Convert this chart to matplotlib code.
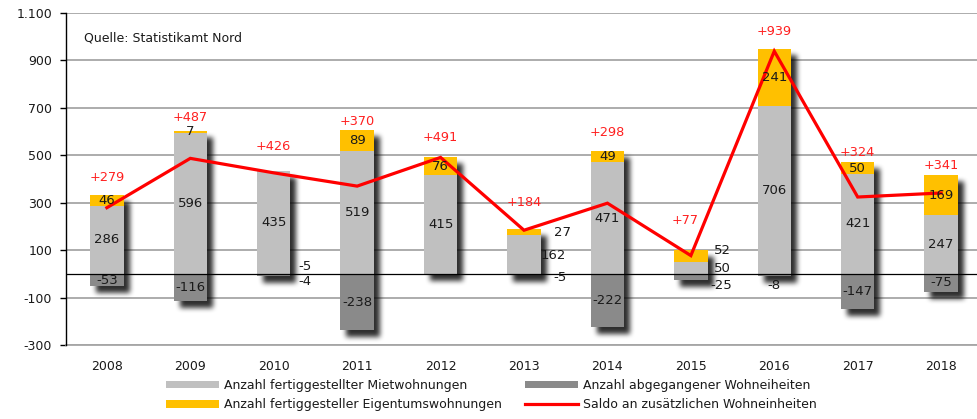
import numpy as np
import matplotlib
matplotlib.use("Agg")
import matplotlib.pyplot as plt
from matplotlib.ticker import FuncFormatter, FixedLocator
from matplotlib.lines import Line2D
from matplotlib.patches import Patch

# ---------------- data ----------------
years = ["2008", "2009", "2010", "2011", "2012", "2013", "2014", "2015", "2016", "2017", "2018"]
miet = [286, 596, 435, 519, 415, 162, 471, 50, 706, 421, 247]
eigen = [46, 7, -5, 89, 76, 27, 49, 52, 241, 50, 169]
abgang = [-53, -116, -4, -238, 0, -5, -222, -25, -8, -147, -75]
saldo = [279, 487, 426, 370, 491, 184, 298, 77, 939, 324, 341]
yticks = [-300, -100, 100, 300, 500, 700, 900, 1100]

legend_labels = ["Anzahl fertiggestellter Mietwohnungen",
                 "Anzahl fertiggesteller Eigentumswohnungen",
                 "Anzahl abgegangener Wohneiheiten",
                 "Saldo an zusätzlichen Wohneinheiten"]
source = "Quelle: Statistikamt Nord"

# ---------------- style ----------------
C_MIET = "#c0c0c0"
C_EIGEN = "#ffc000"
C_ABG = "#8a8a8a"
C_RED = "#ff0000"
C_GRID = "#a6a6a6"
FONT = "DejaVu Sans"
FS = 9

# layout helpers for labels (offsets, not data)
red_offset = [73, 55, 101, 33, 83, 111, 75, 122, 74, 39, 39]
red_dx = [0, 0, 0, 0, 0, 0, 0, -0.07, 0, 0, 0]
# special label placements: (series, index) -> (dx, y)
special = {
    ("eigen", 2): (0.38, 30), ("abgang", 2): (0.38, -34),
    ("eigen", 5): (0.46, 173), ("miet", 5): (0.35, 76), ("abgang", 5): (0.43, -17),
    ("eigen", 7): (0.38, 97), ("miet", 7): (0.38, 21), ("abgang", 7): (0.37, -51),
    ("abgang", 8): (0.0, -51),
}

plt.rcParams["font.family"] = [FONT]

W, H = 977, 419
fig = plt.figure(figsize=(W / 100, H / 100), dpi=100)
ax_l, ax_r, ax_t, ax_b = 66, 977, 13, 345
ax = fig.add_axes([ax_l / W, 1 - ax_b / H, (ax_r - ax_l) / W, (ax_b - ax_t) / H])

x = np.arange(len(years))
bw = 0.40
xlim = (-0.49, 10.43)
ylim = (-300, 1100)
ax.set_xlim(*xlim)
ax.set_ylim(*ylim)

# gridlines
for t in yticks:
    ax.axhline(t, color=C_GRID, lw=1.3, zorder=1)
ax.axhline(0, color="black", lw=0.9, zorder=3)

# stacked bars
pos = np.zeros(len(x))
neg = np.zeros(len(x))
series = [("miet", miet, C_MIET), ("eigen", eigen, C_EIGEN), ("abgang", abgang, C_ABG)]
for name, vals, col in series:
    for i, v in enumerate(vals):
        if v == 0:
            continue
        if v > 0:
            b = pos[i]
            pos[i] += v
        else:
            b = neg[i]
            neg[i] += v
        ax.bar(x[i], v, bw, bottom=b, color=col, zorder=2, linewidth=0)
        if (name, i) in special:
            dx, yy = special[(name, i)]
            ax.text(x[i] + dx, yy, str(v), ha="center", va="center", fontsize=FS + 0.5,
                    color="#1a1a1a", zorder=6)
        else:
            ax.text(x[i], b + v / 2, str(v), ha="center", va="center", fontsize=FS + 0.5,
                    color="#1a1a1a", zorder=6)

# shadows via blurred mask image
fig.canvas.draw()
bb = ax.bbox
aw, ah = int(round(bb.width)), int(round(bb.height))
mask = np.zeros((ah, aw))
sdx, sdy = 6, 7
for i in range(len(x)):
    (px0, py0) = ax.transData.transform((x[i] - bw / 2, neg[i]))
    (px1, py1) = ax.transData.transform((x[i] + bw / 2, pos[i]))
    c0 = int(round(px0 - bb.x0 + sdx)); c1 = int(round(px1 - bb.x0 + sdx))
    r_top = int(round(ah - (py1 - bb.y0) + sdy)); r_bot = int(round(ah - (py0 - bb.y0) + sdy))
    mask[max(r_top, 0):min(r_bot, ah), max(c0, 0):min(c1, aw)] = 1.0

def box_blur(a, r):
    k = 2 * r + 1
    p = np.pad(a, ((r, r), (0, 0)), mode="constant")
    c = np.cumsum(np.vstack([np.zeros((1, p.shape[1])), p]), axis=0)
    a = (c[k:] - c[:-k]) / k
    p = np.pad(a, ((0, 0), (r, r)), mode="constant")
    c = np.cumsum(np.hstack([np.zeros((p.shape[0], 1)), p]), axis=1)
    return (c[:, k:] - c[:, :-k]) / k

for _ in range(3):
    mask = box_blur(mask, 2)
rgba = np.zeros((ah, aw, 4))
rgba[..., 3] = np.clip(mask, 0, 1) * 0.82
ax.imshow(rgba, extent=(0, 1, 0, 1), transform=ax.transAxes, origin="upper",
          zorder=1.5, interpolation="bilinear", aspect="auto")
ax.set_xlim(*xlim)
ax.set_ylim(*ylim)

# saldo line
ax.plot(x, saldo, color=C_RED, lw=2.3, zorder=4, solid_joinstyle="miter")
for i, s in enumerate(saldo):
    ax.text(x[i] + red_dx[i], pos[i] + red_offset[i], "+%d" % s, ha="center", va="center",
            fontsize=FS + 0.3, color="#ff2020", zorder=6)

# axes styling
ax.yaxis.set_major_locator(FixedLocator(yticks))
ax.yaxis.set_major_formatter(FuncFormatter(lambda v, p: f"{int(v):,}".replace(",", ".")))
ax.set_xticks(x)
ax.set_xticklabels(years)
ax.tick_params(axis="x", length=0, pad=11, labelsize=FS, colors="#1a1a1a")
ax.tick_params(axis="y", length=4, width=1, direction="out", pad=6, labelsize=FS,
               colors="black", labelcolor="#1a1a1a")
for s in ["top", "right"]:
    ax.spines[s].set_visible(False)
ax.spines["left"].set_color("black")
ax.spines["left"].set_linewidth(1.0)
ax.spines["left"].set_zorder(5)
ax.spines["bottom"].set_color(C_GRID)
ax.spines["bottom"].set_linewidth(1.3)

ax.text((84 - ax_l) / (ax_r - ax_l), (ax_b - 38) / (ax_b - ax_t), source,
        transform=ax.transAxes, ha="left", va="center", fontsize=FS, color="#1a1a1a")

# legend (two columns)
h1 = [Patch(color=C_MIET, lw=0), Patch(color=C_EIGEN, lw=0)]
h2 = [Patch(color=C_ABG, lw=0), Line2D([], [], color=C_RED, lw=2.3)]
common = dict(loc="upper left", frameon=False, fontsize=FS, handlelength=4.2,
              handleheight=0.55, handletextpad=0.45, borderpad=0, borderaxespad=0,
              labelspacing=0.5, labelcolor="#1a1a1a")
leg1 = fig.legend(h1, legend_labels[:2], bbox_to_anchor=(166 / W, 1 - 379 / H), **common)
leg2 = fig.legend(h2, legend_labels[2:], bbox_to_anchor=(525 / W, 1 - 379 / H), **common)

fig.savefig("out.png", dpi=100)
